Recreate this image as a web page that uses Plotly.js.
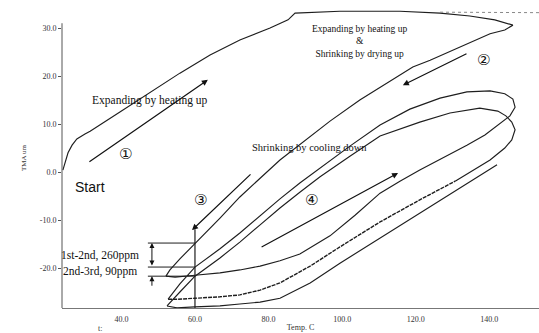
<!DOCTYPE html>
<html>
<head>
<meta charset="utf-8">
<script src="https://cdn.plot.ly/plotly-3.0.1.min.js"></script>
<style>html,body{margin:0;padding:0;background:#fff;}#chart{width:539px;height:333px;}</style>
</head>
<body>
<div id="chart"></div>
<script>
// ---- data (Temp in C, TMA in um) ----
const cycle1Temp = [24.1, 24.7, 25.5, 26.6, 27.9, 30.1, 31.5, 39.6, 47.8, 55.9, 64.1, 72.2, 80.4, 85.3, 87.2, 99.4, 115.7, 126.6, 134.7, 141.5, 146.4, 144.2, 140.2, 132.0, 123.9, 119.2, 113.0, 104.8, 96.7, 88.5, 83.1, 77.7, 72.2, 66.8, 60.0, 55.9, 53.2, 52.1];
const cycle1TMA  = [0.4, 1.9, 4.0, 5.6, 6.9, 7.9, 8.5, 12.5, 16.5, 20.6, 24.4, 27.5, 30.0, 31.7, 33.1, 33.5, 33.5, 33.1, 32.5, 31.7, 30.6, 29.6, 28.8, 26.0, 23.3, 21.9, 19.0, 15.0, 10.6, 5.8, 2.5, -1.3, -5.2, -9.6, -14.8, -18.1, -20.4, -21.7];

const cycle2Temp = [52.1, 54.6, 60.0, 66.8, 72.2, 77.7, 83.1, 88.5, 96.7, 103.5, 110.3, 115.7, 121.1, 127.9, 133.9, 138.8, 142.9, 145.6, 147.0, 146.4, 144.2, 140.2, 133.9, 126.6, 118.4, 110.3, 102.1, 94.0, 88.5, 83.1, 77.7, 72.2, 66.8, 60.0, 55.9, 53.5, 52.7];
const cycle2TMA  = [-21.7, -21.9, -21.5, -21.0, -20.4, -19.6, -18.5, -17.1, -13.3, -9.0, -4.4, -1.9, 0.4, 3.1, 5.6, 7.7, 10.0, 11.7, 13.5, 15.2, 16.3, 16.9, 16.7, 15.4, 13.1, 9.8, 5.4, 0.8, -2.3, -5.6, -9.2, -12.7, -16.0, -19.8, -23.3, -25.6, -26.5];

const cycle3HeatTemp = [52.7, 55.4, 60.0, 66.8, 72.2, 77.7, 83.1, 91.3, 99.4, 110.3, 121.1, 130.7];
const cycle3HeatTMA  = [-26.5, -26.5, -26.3, -26.0, -25.6, -24.6, -23.1, -19.6, -15.6, -10.4, -5.8, -1.9];

const cycle3Temp = [130.7, 140.2, 144.2, 146.1, 147.0, 146.1, 144.5, 142.3, 137.4, 129.3, 121.1, 115.7, 110.3, 102.1, 94.0, 88.5, 83.1, 77.7, 72.2, 66.8, 60.0, 55.9, 53.5, 52.4];
const cycle3TMA  = [-1.9, 2.5, 5.0, 6.7, 8.8, 10.4, 11.7, 12.7, 13.3, 12.3, 10.4, 9.0, 7.5, 3.3, -1.0, -4.2, -7.5, -11.0, -14.6, -17.9, -21.7, -25.0, -27.1, -27.9];

const cycle4Temp = [52.4, 55.1, 60.0, 66.8, 72.2, 77.7, 83.1, 91.3, 99.4, 110.3, 121.1, 132.0, 142.1];
const cycle4TMA  = [-27.9, -28.3, -28.1, -27.9, -27.5, -27.1, -26.3, -23.1, -19.0, -13.8, -8.5, -3.3, 1.5];

const offscaleTemp = [126.6, 153.5];
const offscaleTMA  = [33.3, 33.2];

const xTickVals = [40, 60, 80, 100, 120, 140];
const xTickText = ['40.0', '60.0', '80.0', '100.0', '120.0', '140.0'];
const yTickVals = [-20, -10, 0, 10, 20, 30];
const yTickText = ['-20.0', '-10.0', '0.0', '10.0', '20.0', '30.0'];
const xRange = [23.86, 153.5];
const yRange = [-28.33, 34.17];
const refTemp = 60;

// TMA value where a cooling branch crosses the reference temperature
function coolingLevelAt(temps, vals, t) {
  for (let i = 0; i < temps.length - 1; i++) {
    const a = temps[i], b = temps[i + 1];
    if (a > b && a >= t && b <= t) {
      const f = (a - t) / (a - b);
      return vals[i] + f * (vals[i + 1] - vals[i]);
    }
  }
  return null;
}
const lvl1 = coolingLevelAt(cycle1Temp, cycle1TMA, refTemp);
const lvl2 = coolingLevelAt(cycle2Temp, cycle2TMA, refTemp);
const lvl3 = coolingLevelAt(cycle3Temp, cycle3TMA, refTemp);

const ink = '#1e1e1e';
const lineStyle = {color: ink, width: 1.15};
const traces = [
  {x: cycle1Temp, y: cycle1TMA, mode: 'lines', line: lineStyle, name: '1st cycle'},
  {x: cycle2Temp, y: cycle2TMA, mode: 'lines', line: lineStyle, name: '2nd cycle'},
  {x: cycle3HeatTemp, y: cycle3HeatTMA, mode: 'lines', line: {color: ink, width: 1.4, dash: '4px,1px'}, name: '3rd heating'},
  {x: cycle3Temp, y: cycle3TMA, mode: 'lines', line: lineStyle, name: '3rd cycle'},
  {x: cycle4Temp, y: cycle4TMA, mode: 'lines', line: lineStyle, name: '4th heating'},
  {x: offscaleTemp, y: offscaleTMA, mode: 'lines', line: {color: '#888', width: 1, dash: 'dot'}, name: 'off scale'}
];

const serif = 'Liberation Serif, Times New Roman, serif';
const bracketLeft = 47.2, bracketArrowX = 48.3;

const layout = {
  width: 539, height: 333,
  margin: {l: 62, r: 0, t: 8, b: 25},
  paper_bgcolor: '#fff', plot_bgcolor: '#fff',
  showlegend: false,
  xaxis: {
    range: xRange, tickvals: xTickVals, ticktext: xTickText,
    showgrid: false, zeroline: false, showline: true, linecolor: '#777', linewidth: 1,
    ticks: '', ticklabelstandoff: 3,
    tickfont: {family: serif, size: 8, color: '#333'},
    title: {text: 'Temp. C', font: {family: serif, size: 8, color: '#333'}, standoff: 1}
  },
  yaxis: {
    range: yRange, tickvals: yTickVals, ticktext: yTickText,
    showgrid: false, zeroline: false, showline: false,
    ticks: 'outside', ticklen: 3, tickcolor: '#555', tickwidth: 1,
    tickfont: {family: serif, size: 8, color: '#333'},
    title: {text: 'TMA um', font: {family: serif, size: 7, color: '#333'}, standoff: 12}
  },
  shapes: [
    {type: 'line', xref: 'paper', yref: 'y', x0: 0, x1: 0, y0: yRange[0], y1: 31, line: {color: '#555', width: 1}},
    {type: 'line', xref: 'x', yref: 'y', x0: refTemp, x1: refTemp, y0: -11.9, y1: yRange[0], line: {color: ink, width: 1.2}},
    {type: 'line', xref: 'x', yref: 'y', x0: bracketLeft, x1: refTemp, y0: lvl1, y1: lvl1, line: {color: ink, width: 1}},
    {type: 'line', xref: 'x', yref: 'y', x0: bracketLeft, x1: refTemp, y0: lvl2, y1: lvl2, line: {color: ink, width: 1}},
    {type: 'line', xref: 'x', yref: 'y', x0: bracketLeft, x1: refTemp, y0: lvl3, y1: lvl3, line: {color: ink, width: 1}}
  ],
  annotations: [
    {x: 47.8, y: 15.0, xref: 'x', yref: 'y', text: 'Expanding by heating up', showarrow: false, font: {family: serif, size: 11.5, color: '#111'}},
    {x: 104.6, y: 27.1, xref: 'x', yref: 'y', text: 'Expanding by heating up<br>&amp;<br>Shrinking by drying up', showarrow: false, font: {family: serif, size: 9.5, color: '#111'}},
    {x: 91.0, y: 5.2, xref: 'x', yref: 'y', text: 'Shrinking by cooling down', showarrow: false, font: {family: serif, size: 10.5, color: '#111'}},
    {x: 31.5, y: -3.1, xref: 'x', yref: 'y', text: 'Start', showarrow: false, font: {family: 'Liberation Sans, Arial, sans-serif', size: 14, color: '#111'}},
    {x: 41.25, y: 3.75, xref: 'x', yref: 'y', text: '\u2460', showarrow: false, font: {family: 'DejaVu Sans', size: 15, color: '#111'}},
    {x: 138.3, y: 23.3, xref: 'x', yref: 'y', text: '\u2461', showarrow: false, font: {family: 'DejaVu Sans', size: 15, color: '#111'}},
    {x: 61.4, y: -5.8, xref: 'x', yref: 'y', text: '\u2462', showarrow: false, font: {family: 'DejaVu Sans', size: 15, color: '#111'}},
    {x: 91.8, y: -5.8, xref: 'x', yref: 'y', text: '\u2463', showarrow: false, font: {family: 'DejaVu Sans', size: 15, color: '#111'}},
    {x: 34.2, y: -17.3, xref: 'x', yref: 'y', text: '1st-2nd, 260ppm', showarrow: false, font: {family: serif, size: 11.5, color: '#111'}},
    {x: 34.2, y: -20.8, xref: 'x', yref: 'y', text: '2nd-3rd, 90ppm', showarrow: false, font: {family: serif, size: 11.5, color: '#111'}},
    {x: 34.2, y: -0.09, xref: 'x', yref: 'paper', text: 't:', showarrow: false, font: {family: serif, size: 8, color: '#333'}},
    // arrows
    {x: 63.5, y: 19.2, ax: 30.9, ay: 1.9, xref: 'x', yref: 'y', axref: 'x', ayref: 'y', text: '', showarrow: true, arrowhead: 2, arrowsize: 1, arrowwidth: 1.2, arrowcolor: '#111'},
    {x: 116.5, y: 18.1, ax: 134.2, ay: 24.8, xref: 'x', yref: 'y', axref: 'x', ayref: 'y', text: '', showarrow: true, arrowhead: 2, arrowsize: 1, arrowwidth: 1.2, arrowcolor: '#111'},
    {x: 59.2, y: -12.1, ax: 75.5, ay: -0.2, xref: 'x', yref: 'y', axref: 'x', ayref: 'y', text: '', showarrow: true, arrowhead: 2, arrowsize: 1, arrowwidth: 1.2, arrowcolor: '#111'},
    {x: 115.2, y: -0.2, ax: 77.7, ay: -15.8, xref: 'x', yref: 'y', axref: 'x', ayref: 'y', text: '', showarrow: true, arrowhead: 2, arrowsize: 1, arrowwidth: 1.2, arrowcolor: '#111'},
    {x: bracketArrowX, y: lvl1, ax: bracketArrowX, ay: lvl2, xref: 'x', yref: 'y', axref: 'x', ayref: 'y', text: '', showarrow: true, arrowhead: 2, startarrowhead: 2, arrowside: 'end+start', arrowsize: 1, arrowwidth: 1, arrowcolor: '#111'},
    {x: bracketArrowX, y: lvl3, ax: bracketArrowX, ay: -24.0, xref: 'x', yref: 'y', axref: 'x', ayref: 'y', text: '', showarrow: true, arrowhead: 2, arrowsize: 1, arrowwidth: 1, arrowcolor: '#111'}
  ]
};

Plotly.newPlot('chart', traces, layout, {displayModeBar: false, staticPlot: true});
</script>
</body>
</html>
